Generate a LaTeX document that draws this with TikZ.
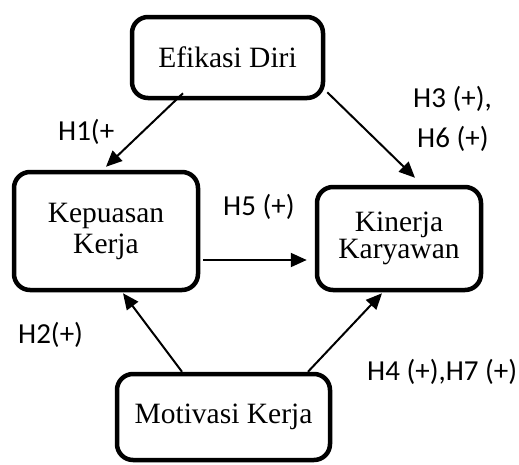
\documentclass[tikz,border=0pt]{standalone}
\usepackage{fontspec}
\setmainfont{Liberation Serif}
\newfontfamily\lblfont{Carlito}
\usetikzlibrary{arrows.meta}
\begin{document}
\begin{tikzpicture}[x=1pt,y=-1pt,
  box/.style={draw=black, line width=4.5pt, rounded corners=16pt, align=center,
    font=\fontsize{29.5}{31}\selectfont, inner sep=0pt},
  arr/.style={line width=2pt, -{Triangle[length=16pt,width=14pt]}},
  lbl/.style={anchor=base west, inner sep=0pt, font=\lblfont\fontsize{29}{31}\selectfont}]
\useasboundingbox (0,0) rectangle (519,464);
\node[box, minimum width=191pt, minimum height=81pt] (e) at (227.5,57.5) {Efikasi Diri};
\node[box, minimum width=184pt, minimum height=118pt] (kp) at (106,231) {Kepuasan\\Kerja};
\node[box, minimum width=164pt, minimum height=103pt] (ki) at (399,238.5) {Kinerja\\[-4pt]Karyawan};
\node[box, minimum width=213pt, minimum height=86pt] (m) at (223.5,417) {\raisebox{-5pt}{Motivasi Kerja}};
\draw[arr] ([shift={(-44.5,-7)}]e.south) -- ([shift={(0,-3)}]kp.north);
\draw[arr] ([shift={(2,-8)}]e.south east) -- ([shift={(16,-7)}]ki.north);
\draw[arr] ([shift={(3,29)}]kp.east) -- ([shift={(-8,21.5)}]ki.west);
\draw[arr] ([shift={(-41.5,0)}]m.north) -- ([shift={(17,1)}]kp.south);
\draw[arr] ([shift={(84.5,0)}]m.north) -- ([shift={(-17,1)}]ki.south);
\node[lbl] (h1) at (58,140) {H1(+};
\node[lbl] (h3) at (413,107) {H3 (+),};
\node[lbl] (h6) at (417,147) {H6 (+)};
\node[lbl] (h5) at (223,215) {H5 (+)};
\node[lbl] (h2) at (18,343) {H2(+)};
\node[lbl] (h4) at (367,380) {H4 (+),H7 (+)};
\end{tikzpicture}
\end{document}
